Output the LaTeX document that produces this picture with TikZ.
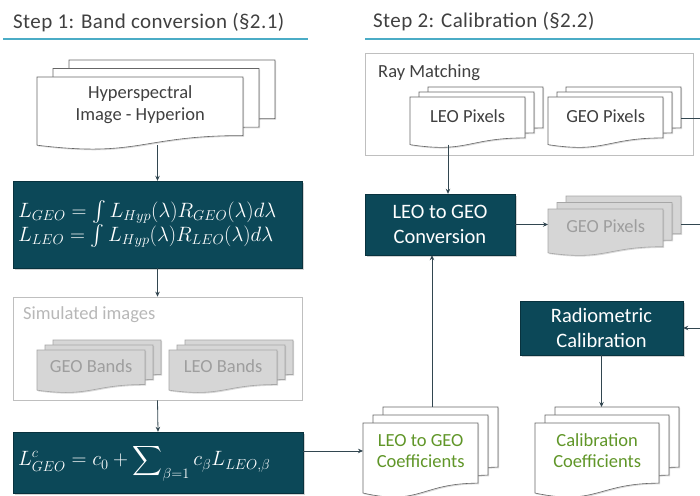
\documentclass[tikz,border=0pt]{standalone}
\usepackage{exscale}
\usepackage{fontspec}
\setmainfont{Carlito}
\usetikzlibrary{arrows.meta,shadows}
\definecolor{boxteal}{RGB}{12,72,88}
\definecolor{ruleblue}{RGB}{75,172,198}
\definecolor{linecol}{RGB}{50,70,80}
\definecolor{leaf}{RGB}{96,150,40}
\definecolor{inkgray}{RGB}{64,64,64}
\tikzset{
  conn/.style={draw=linecol, line width=0.8pt},
  arr/.style={conn, -{Stealth[length=5pt,width=4.5pt]}},
  titletext/.style={font=\fontsize{21}{24}\selectfont\addfontfeature{LetterSpace=2}, text=inkgray, inner sep=0, anchor=west},
  titlerule/.style={draw=ruleblue, line width=2.5pt},
  darkbox/.style={fill=boxteal, draw=boxteal!70!black, text=white, inner sep=0,
    drop shadow={shadow xshift=1.5pt,shadow yshift=-1.5pt,opacity=.35}},
  boxtext/.style={font=\fontsize{20.5}{25}\selectfont, align=center},
  mathbox/.style={font=\fontsize{19.5}{24}\selectfont, align=left},
  groupbox/.style={draw=black!25, line width=0.7pt, fill=white, inner sep=0},
  grouplabel/.style={anchor=west, inner sep=0, font=\fontsize{18.5}{22}\selectfont},
  pageshadow/.style={drop shadow={shadow xshift=1.2pt,shadow yshift=-1.2pt,opacity=.3}},
  whitepage/.style={fill=white, draw=black!60, line width=0.6pt, pageshadow},
  graypage/.style={fill=black!16, draw=black!35, line width=0.6pt, pageshadow},
  greenpage/.style={whitepage},
  whitetext/.style={text=inkgray, font=\fontsize{18.5}{22}\selectfont, align=center},
  graytext/.style={text=black!38, font=\fontsize{18.5}{22}\selectfont, align=center},
  greentext/.style={text=leaf, font=\fontsize{18.5}{21}\selectfont, align=center},
}
% one page: left, top, width, height, style
\newcommand\docpage[5]{%
  \path[#5] (#1,#2) -- (#1+#3,#2) -- (#1+#3,#2+0.802*#4)
    .. controls (#1+0.5*#3,#2+0.802*#4) and (#1+0.5*#3,#2+1.107*#4) .. (#1,#2+0.934*#4) -- cycle;}
% stack: name, left, top, width, height, dx, dy, kind, text
\newcommand\docstack[9]{%
  \docpage{#2+2*#6}{#3-2*#7}{#4}{#5}{#8page}
  \docpage{#2+#6}{#3-#7}{#4}{#5}{#8page}
  \docpage{#2}{#3}{#4}{#5}{#8page}
  \node[#8text, anchor=north west, minimum width=#4, minimum height=0.74*#5, inner sep=0] (#1) at (#2,#3) {#9};
  \node[inner sep=0, minimum width=#4, minimum height=0.8*#5, anchor=north west] (#1-b) at (#2+2*#6,#3-2*#7) {};
  \coordinate (#1-bot) at (#2+0.5*#4,#3+0.933*#5);}
\begin{document}
\begin{tikzpicture}[x=1pt,y=-1pt]
\useasboundingbox (0,0) rectangle (700,495);
% titles
\node[titletext] (t1) at (13,23) {Step 1: Band conversion (§2.1)};
\node[titletext] (t2) at (373,22) {Step 2: Calibration (§2.2)};
\draw[titlerule] (3,39) -- (308,39);
\draw[titlerule] (365,39) -- (700,39);
% step 1
\docstack{hyper}{37}{77}{206}{73}{16}{8.5}{white}{Hyperspectral\\Image - Hyperion}
\node[darkbox, mathbox, font=\fontsize{20.3}{24}\selectfont, minimum width=289, minimum height=87, text width=279] (F1) at (157.5,224.5)
  {$L_{GEO} = \int L_{Hyp}(\lambda)R_{GEO}(\lambda)d\lambda$\\$L_{LEO} = \int L_{Hyp}(\lambda)R_{LEO}(\lambda)d\lambda$};
\node[groupbox, minimum width=289, minimum height=103] (sim) at (157.5,348.5) {};
\node[grouplabel, text=black!28] (simlbl) at (23,315) {Simulated images};
\docstack{geob}{37}{350}{108}{43}{8}{5}{gray}{GEO Bands}
\docstack{leob}{169}{350}{108}{43}{8}{5}{gray}{LEO Bands}
\node[darkbox, mathbox, minimum width=290, minimum height=61, text width=280] (F2) at (158,462.5)
  {$\displaystyle L^{c}_{GEO} = c_0 + \sum\nolimits_{\beta=1} c_\beta L_{LEO,\beta}$};
% step 2
\node[groupbox, minimum width=328, minimum height=102] (ray) at (529,104) {};
\node[grouplabel, text=inkgray] (raylbl) at (378,73) {Ray Matching};
\docstack{leopix}{410}{97}{115}{51}{9}{5}{white}{LEO Pixels}
\docstack{geopix}{548}{97}{115}{51}{9}{5}{white}{GEO Pixels}
\node[darkbox, boxtext, minimum width=150, minimum height=61] (conv) at (440,224.5) {LEO to GEO\\Conversion};
\docstack{geopixb}{548}{209}{115}{47}{9}{6.5}{gray}{GEO Pixels}
\node[darkbox, boxtext, minimum width=163, minimum height=54] (rad) at (601.5,328) {Radiometric\\Calibration};
\docstack{coefa}{363}{423}{115}{75}{10}{8}{green}{LEO to GEO\\Coefficients}
\docstack{coefb}{535}{423}{124}{75}{10}{8}{green}{Calibration\\Coefficients}
% free ends at the right edge
\coordinate (edgeA) at (700,118);
\coordinate (edgeB) at (700,224.5);
\coordinate (edgeC) at (700,328);
% connectors
\draw[arr] (F1.north |- hyper-bot) -- (F1.north);
\draw[arr] (F1.south) -- (sim.north);
\draw[arr] (sim.south) -- (F2.north);
\draw[arr] (F2.east |- coefa.west) -- (coefa.west);
\draw[arr] ([xshift=8pt]conv.north |- leopix-bot) -- ([xshift=8pt]conv.north);
\draw[arr] (conv.east) -- (conv.east -| geopixb.west);
\draw[conn] (edgeB -| geopixb-b.east) -- (edgeB);
\draw[conn] (edgeA -| geopix-b.east) -- (edgeA);
\draw[arr] (edgeC) -- (rad.east);
\draw[arr] (rad.south) -- (rad.south |- coefb-b.north);
\draw[arr] ([xshift=-8pt]conv.south |- coefa-b.north) -- ([xshift=-8pt]conv.south);
\end{tikzpicture}
\end{document}
